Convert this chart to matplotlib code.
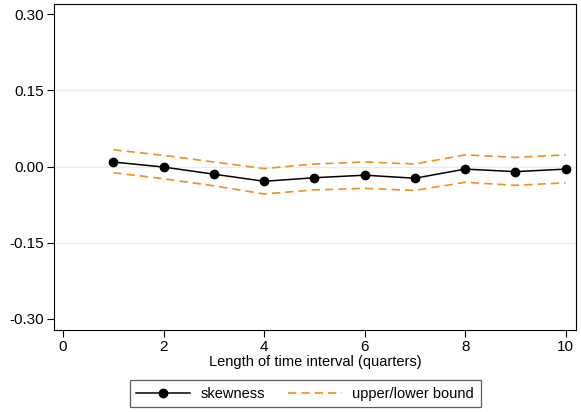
import matplotlib.pyplot as plt

plt.rcParams["font.family"] = ["Liberation Sans", "DejaVu Sans"]

quarters = [1, 2, 3, 4, 5, 6, 7, 8, 9, 10]
skewness = [0.009, -0.001, -0.015, -0.029, -0.022, -0.017, -0.023, -0.005, -0.010, -0.005]
upper = [0.033, 0.022, 0.009, -0.004, 0.005, 0.009, 0.005, 0.023, 0.018, 0.023]
lower = [-0.012, -0.024, -0.038, -0.054, -0.046, -0.043, -0.047, -0.031, -0.037, -0.032]

yticks = [0.30, 0.15, 0.00, -0.15, -0.30]
xticks = [0, 2, 4, 6, 8, 10]

orange = "#F0901E"

fig = plt.figure(figsize=(5.81, 4.12), dpi=100)
ax = fig.add_axes([0.093, 0.199, 0.898, 0.791])

for y in [0.15, 0.0, -0.15]:
    ax.axhline(y, color="#E4EEF0", lw=1.0, zorder=0)

ax.plot(quarters, upper, color=orange, ls=(0, (5, 3)), lw=1.2, label="upper/lower bound")
ax.plot(quarters, lower, color=orange, ls=(0, (5, 3)), lw=1.2)
ax.plot(quarters, skewness, color="black", lw=1.1, marker="o", ms=6, label="skewness")

ax.set_xlim(-0.18, 10.2)
ax.set_ylim(-0.322, 0.32)
ax.set_yticks(yticks)
ax.set_yticklabels(["%.2f" % v for v in yticks])
ax.set_xticks(xticks)
ax.tick_params(direction="out", length=5, width=0.8, labelsize=11, pad=2)
ax.set_xlabel("Length of time interval (quarters)", fontsize=10.5, labelpad=1)

handles, labels = ax.get_legend_handles_labels()
leg = fig.legend(handles[::-1], labels[::-1], loc="center", bbox_to_anchor=(0.525, 0.044),
                 ncol=2, frameon=True, fancybox=False, edgecolor="#333333", fontsize=10.5,
                 handlelength=3.7, handletextpad=0.7, columnspacing=1.6, borderpad=0.45)
leg.get_frame().set_linewidth(0.9)

fig.savefig("out.png", dpi=100)
